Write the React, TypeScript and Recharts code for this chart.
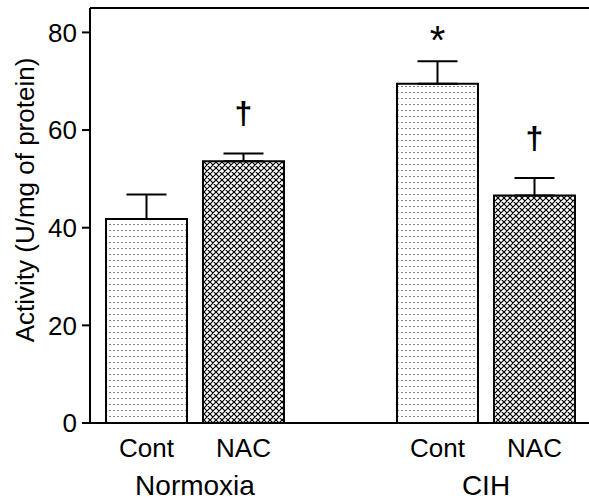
import React from "react";
import { BarChart, Bar, XAxis, YAxis, Cell, ErrorBar, LabelList, ReferenceLine } from "recharts";

// columns: two per condition with an empty slot between the groups
const treatments = ["Cont", "NAC", "", "Cont", "NAC"];
const activity = [41.8, 53.6, null, 69.5, 46.6];
const sem = [5.0, 1.6, null, 4.6, 3.6];
const marks = ["", "\u2020", "", "*", "\u2020"];
const groups = ["Normoxia", "", "", "CIH", ""];
const yTicks = [0, 20, 40, 60, 80];

const data = treatments.map((t, i) => ({
  name: t,
  activity: activity[i],
  err: sem[i] == null ? null : [0, sem[i]],
  mark: marks[i],
}));

// LabelList counts only the bars that are drawn, so map back to the data row
const drawn = activity.map((v, i) => (v == null ? -1 : i)).filter((i) => i >= 0);

const FONT = "'Liberation Sans', Arial, sans-serif";

const XTick = (props: any) => {
  const { x, y, payload } = props;
  const i = payload.index;
  return (
    <g>
      <text x={x} y={y + 34} textAnchor="middle" fontSize={26} fill="#000">
        {payload.value}
      </text>
      {groups[i] ? (
        <text x={x + 48.5} y={y + 72} textAnchor="middle" fontSize={28} fill="#000">
          {groups[i]}
        </text>
      ) : null}
    </g>
  );
};

const MarkLabel = (props: any) => {
  const { x, y, width, height, value, index } = props;
  if (!value) return null;
  const row = drawn[index];
  const v = activity[row] as number;
  const s = sem[row] as number;
  const errTop = y - (s * height) / v;
  const cx = x + width / 2;
  const star = value === "*";
  return (
    <text
      x={cx}
      y={star ? errTop - 7 : errTop - 29}
      textAnchor="middle"
      fontSize={star ? 40 : 32}
      fontWeight={star ? "normal" : "bold"}
      fill="#000"
    >
      {value}
    </text>
  );
};

const YLabel = () => (
  <text
    x={0}
    y={0}
    transform="translate(34,200) rotate(-90)"
    textAnchor="middle"
    fontSize={26}
    fill="#000"
  >
    Activity (U/mg of protein)
  </text>
);

export default function App() {
  return (
    <div style={{ position: "absolute", left: 0, top: 0, fontFamily: FONT, background: "#fff" }}>
      <svg width={0} height={0} style={{ position: "absolute" }}>
        <defs>
          <pattern id="dots" patternUnits="userSpaceOnUse" width={4} height={6}>
            <rect x={0} y={0} width={4} height={6} fill="#fff" />
            <rect x={1} y={2} width={2} height={1} fill="#888" />
          </pattern>
          <pattern id="hatch" patternUnits="userSpaceOnUse" width={6} height={6}>
            <rect x={0} y={0} width={6} height={6} fill="#fff" />
            <path
              d="M-1,-1 L7,7 M7,-1 L-1,7 M-1,5 L1,7 M5,-1 L7,1 M5,7 L7,5 M-1,1 L1,-1"
              stroke="#000"
              strokeWidth={1.2}
            />
          </pattern>
        </defs>
      </svg>
      <BarChart
        width={589}
        height={504}
        data={data}
        margin={{ top: 8, right: 0, bottom: 0, left: 0 }}
        barSize={81}
      >
        <XAxis
          dataKey="name"
          height={81}
          padding={{ left: 8, right: 6 }}
          tickLine={false}
          tickSize={0}
          tickMargin={0}
          axisLine={{ stroke: "#000", strokeWidth: 2 }}
          tick={<XTick />}
          interval={0}
        />
        <YAxis
          width={90}
          domain={[0, 85]}
          ticks={yTicks}
          tickSize={8}
          tickMargin={5}
          axisLine={{ stroke: "#000", strokeWidth: 2 }}
          tickLine={{ stroke: "#000", strokeWidth: 2 }}
          tick={{ fontSize: 26, fill: "#000" }}
          label={<YLabel />}
        />
        <ReferenceLine y={85} stroke="#000" strokeWidth={2} />
        <Bar dataKey="activity" stroke="#000" strokeWidth={2} isAnimationActive={false}>
          {data.map((d, i) => (
            <Cell key={i} fill={d.name === "Cont" ? "url(#dots)" : "url(#hatch)"} />
          ))}
          <ErrorBar dataKey="err" width={20} stroke="#000" strokeWidth={2} direction="y" />
          <LabelList dataKey="mark" content={<MarkLabel />} />
        </Bar>
      </BarChart>
    </div>
  );
}
